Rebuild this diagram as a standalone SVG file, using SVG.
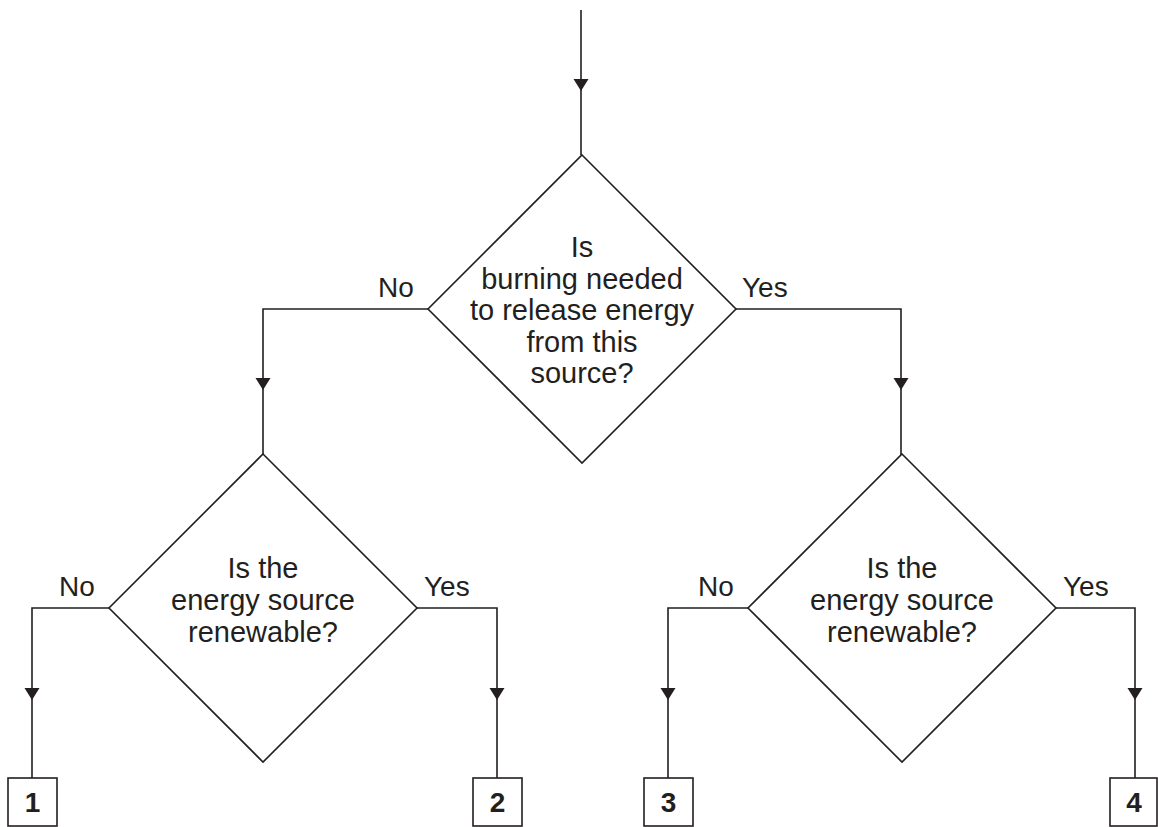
<svg xmlns="http://www.w3.org/2000/svg" width="1158" height="827" viewBox="0 0 1158 827">
<style>
.ln{fill:none;stroke:#231f20;stroke-width:1.6}
.nd{fill:#fff;stroke:#231f20;stroke-width:1.6}
.t{font-family:"Liberation Sans",Arial,sans-serif;font-size:29px;fill:#231f20;text-anchor:middle}
.lb{font-family:"Liberation Sans",Arial,sans-serif;font-size:28px;fill:#231f20}
.b{font-family:"Liberation Sans",Arial,sans-serif;font-size:28px;font-weight:bold;fill:#231f20;text-anchor:middle}
</style>
<defs>
<path id="ah" d="M-7.5,-12 L7.5,-12 L0,0 Z" fill="#231f20"/>
</defs>
<rect width="1158" height="827" fill="#fff"/>
<g id="connectors">
<path class="ln" d="M581,10 V155"/>
<path class="ln" d="M428,309 H263 V454"/>
<path class="ln" d="M736,309 H901 V455"/>
<path class="ln" d="M109,608 H32 V778"/>
<path class="ln" d="M417,608 H497 V778"/>
<path class="ln" d="M748,608 H668 V778"/>
<path class="ln" d="M1056,608 H1135 V778"/>
<use href="#ah" x="581" y="91"/>
<use href="#ah" x="263" y="390"/>
<use href="#ah" x="901" y="390"/>
<use href="#ah" x="32" y="700"/>
<use href="#ah" x="497" y="700"/>
<use href="#ah" x="668" y="700"/>
<use href="#ah" x="1135" y="700"/>
<text class="lb" x="378" y="297">No</text>
<text class="lb" x="742" y="297">Yes</text>
<text class="lb" x="59" y="596">No</text>
<text class="lb" x="424" y="596">Yes</text>
<text class="lb" x="698" y="596">No</text>
<text class="lb" x="1063" y="596">Yes</text>
</g>
<g id="q1">
<path class="nd" d="M582,155 L736,309 L582,463 L428,309 Z"/>
<text class="t" x="582" y="257">Is</text>
<text class="t" x="582" y="289">burning needed</text>
<text class="t" x="582" y="320">to release energy</text>
<text class="t" x="582" y="352">from this</text>
<text class="t" x="582" y="383">source?</text>
</g>
<g id="q2">
<path class="nd" d="M263,454 L417,608 L263,762 L109,608 Z"/>
<text class="t" x="263" y="578">Is the</text>
<text class="t" x="263" y="610">energy source</text>
<text class="t" x="263" y="642">renewable?</text>
</g>
<g id="q3">
<path class="nd" d="M902,454 L1056,608 L902,762 L748,608 Z"/>
<text class="t" x="902" y="578">Is the</text>
<text class="t" x="902" y="610">energy source</text>
<text class="t" x="902" y="642">renewable?</text>
</g>
<g id="box1">
<rect class="nd" x="8" y="778" width="49" height="48"/>
<text class="b" x="32.5" y="812">1</text>
</g>
<g id="box2">
<rect class="nd" x="473" y="778" width="49" height="48"/>
<text class="b" x="497.5" y="812">2</text>
</g>
<g id="box3">
<rect class="nd" x="644" y="778" width="49" height="48"/>
<text class="b" x="668.5" y="812">3</text>
</g>
<g id="box4">
<rect class="nd" x="1110" y="778" width="47" height="48"/>
<text class="b" x="1134" y="812">4</text>
</g>
</svg>
